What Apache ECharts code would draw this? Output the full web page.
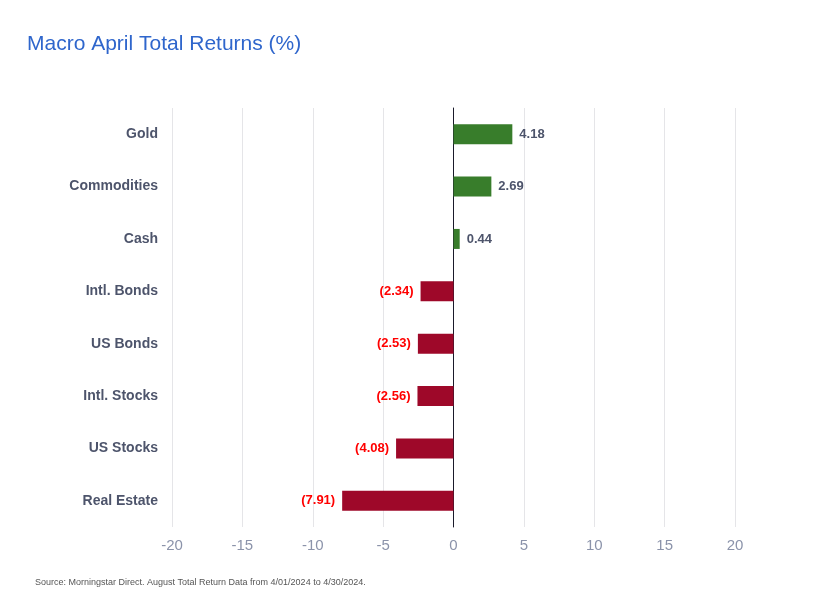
<!DOCTYPE html>
<html>
<head>
<meta charset="utf-8">
<script src="https://cdn.jsdelivr.net/npm/echarts@6/dist/echarts.min.js"></script>
<style>
  html, body { margin: 0; padding: 0; background: #fff; }
  #chart { width: 818px; height: 598px; }
</style>
</head>
<body>
<div id="chart"></div>
<script>
var categories = ['Real Estate', 'US Stocks', 'Intl. Stocks', 'US Bonds', 'Intl. Bonds', 'Cash', 'Commodities', 'Gold'];
var returns = [-7.91, -4.08, -2.56, -2.53, -2.34, 0.44, 2.69, 4.18];

var FONT = '"Liberation Sans", Arial, sans-serif';

var myChart = echarts.init(document.getElementById('chart'));
var option = {
    animation: false,
    title: {
        text: 'Macro April Total Returns (%)',
        left: 22,
        top: 29,
        textStyle: {
            fontFamily: FONT,
            fontWeight: 'normal',
            fontSize: 21,
            color: '#2f66cc'
        }
    },
    graphic: [{
        type: 'text',
        left: 35,
        top: 578,
        style: {
            text: 'Source: Morningstar Direct. August Total Return Data from 4/01/2024 to 4/30/2024.',
            font: '9px "Liberation Sans Narrow", "Liberation Sans", Arial',
            fill: '#555'
        }
    }],
    grid: {
        left: 172,
        right: 83,
        top: 108,
        bottom: 71
    },
    xAxis: {
        type: 'value',
        min: -20,
        max: 20,
        interval: 5,
        axisLine: { show: false },
        axisTick: { show: false },
        axisLabel: {
            fontFamily: '"Liberation Sans Narrow", "Liberation Sans", Arial',
            fontSize: 15,
            color: '#8b93aa',
            margin: 11
        },
        splitLine: { lineStyle: { color: '#e5e5e8' } }
    },
    yAxis: {
        type: 'category',
        data: categories,
        axisLine: { onZero: true, lineStyle: { color: '#1a1a2a', width: 1 } },
        axisTick: { show: false },
        axisLabel: {
            fontFamily: FONT,
            fontSize: 14,
            fontWeight: 'bold',
            color: '#4d546b',
            margin: 14
        }
    },
    series: [{
        type: 'bar',
        barWidth: 20,
        data: returns.map(function (v) {
            return {
                value: v,
                itemStyle: { color: v >= 0 ? '#387d2b' : '#9e0829' },
                label: {
                    position: v >= 0 ? 'right' : 'left',
                    color: v >= 0 ? '#4d546b' : '#ff0000'
                }
            };
        }),
        label: {
            show: true,
            distance: 7,
            fontFamily: FONT,
            fontSize: 13,
            fontWeight: 'bold',
            formatter: function (p) {
                return p.value < 0 ? '(' + Math.abs(p.value).toFixed(2) + ')' : p.value.toFixed(2);
            }
        }
    }]
};
myChart.setOption(option);
</script>
</body>
</html>
